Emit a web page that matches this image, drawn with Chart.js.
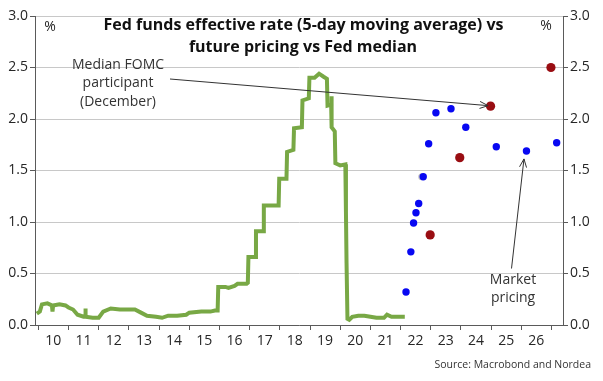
<!DOCTYPE html>
<html>
<head>
<meta charset="utf-8">
<title>Fed funds vs pricing vs Fed median</title>
<script src="https://cdn.jsdelivr.net/npm/chart.js@4.4.1/dist/chart.umd.min.js"></script>
<style>
  html, body { margin: 0; padding: 0; background: #fff; }
</style>
</head>
<body>
<canvas id="chart" width="603" height="381"></canvas>
<script>
// Fed funds effective rate, 5-day moving average (x = decimal year)
const fedYears = [
  2009.95, 2010.05, 2010.12, 2010.3, 2010.45, 2010.47, 2010.49, 2010.7, 2010.9,
  2011.0, 2011.15, 2011.3, 2011.5, 2011.55, 2011.56, 2011.57, 2011.8,
  2012.0, 2012.15, 2012.4, 2012.7, 2013.0, 2013.2, 2013.4, 2013.6, 2013.9,
  2014.1, 2014.3, 2014.6, 2014.9, 2015.0, 2015.4, 2015.7, 2015.85, 2015.94,
  2015.96, 2016.2, 2016.3, 2016.5, 2016.6, 2016.9, 2016.94,
  2016.96, 2017.19, 2017.21, 2017.45, 2017.47, 2017.96, 2017.98,
  2018.22, 2018.24, 2018.45, 2018.47, 2018.73, 2018.75, 2018.96, 2018.98,
  2019.15, 2019.3, 2019.45, 2019.56, 2019.58, 2019.7, 2019.71, 2019.72, 2019.82, 2019.84,
  2020.0, 2020.17, 2020.19, 2020.21, 2020.24, 2020.3, 2020.4, 2020.6, 2020.8,
  2021.0, 2021.2, 2021.45, 2021.55, 2021.7, 2022.0, 2022.14
];
const fedRate = [
  0.11, 0.13, 0.20, 0.21, 0.19, 0.13, 0.19, 0.20, 0.19,
  0.17, 0.15, 0.10, 0.08, 0.08, 0.16, 0.08, 0.07,
  0.07, 0.13, 0.16, 0.15, 0.15, 0.15, 0.12, 0.09, 0.08,
  0.07, 0.09, 0.09, 0.10, 0.12, 0.13, 0.13, 0.14, 0.14,
  0.37, 0.37, 0.36, 0.38, 0.40, 0.40, 0.41,
  0.66, 0.66, 0.91, 0.91, 1.16, 1.16, 1.42,
  1.42, 1.68, 1.70, 1.91, 1.92, 2.18, 2.20, 2.40,
  2.40, 2.44, 2.41, 2.39, 2.13, 2.14, 2.22, 1.92, 1.88, 1.57,
  1.55, 1.56, 1.10, 0.60, 0.06, 0.05, 0.08, 0.09, 0.09,
  0.08, 0.07, 0.07, 0.10, 0.08, 0.08, 0.08
];

// Market (futures) pricing
const marketYears = [2022.18, 2022.34, 2022.43, 2022.51, 2022.6, 2022.75, 2022.93,
  2023.17, 2023.67, 2024.16, 2025.17, 2026.17, 2027.17];
const marketRate = [0.32, 0.71, 0.99, 1.09, 1.18, 1.44, 1.76,
  2.06, 2.10, 1.92, 1.73, 1.69, 1.77];
// faint grey duplicate just behind one of the market dots
const ghostYears = [2022.7];
const ghostRate = [1.44];

// Median FOMC participant (December), last one is the longer run
const fomcYears = [2022.98, 2023.96, 2024.98, 2026.98];
const fomcRate = [0.875, 1.625, 2.125, 2.5];

const xTickYears = [2010, 2011, 2012, 2013, 2014, 2015, 2016, 2017, 2018,
  2019, 2020, 2021, 2022, 2023, 2024, 2025, 2026, 2027];
const xTickLabels = ['10', '11', '12', '13', '14', '15', '16', '17', '18',
  '19', '20', '21', '22', '23', '24', '25', '26', ''];
const yTicks = [0, 0.5, 1, 1.5, 2, 2.5, 3];

const AXIS = '#5a5a5a';
const GRID = '#c8c8c8';
const TEXT = '#262626';
const FONT = '"Open Sans", sans-serif';

const toPoints = (xs, ys) => xs.map((x, i) => ({ x: x, y: ys[i] }));

function arrow(ctx, x1, y1, x2, y2) {
  const a = Math.atan2(y2 - y1, x2 - x1);
  const len = 9, spread = 0.4;
  ctx.beginPath();
  ctx.moveTo(x1, y1);
  ctx.lineTo(x2, y2);
  ctx.moveTo(x2 - len * Math.cos(a - spread), y2 - len * Math.sin(a - spread));
  ctx.lineTo(x2, y2);
  ctx.lineTo(x2 - len * Math.cos(a + spread), y2 - len * Math.sin(a + spread));
  ctx.stroke();
}

// fill text squeezed to a given width if the font is wider
function fitText(ctx, str, cx, cy, maxW) {
  const w = ctx.measureText(str).width;
  const k = w > maxW ? maxW / w : 1;
  ctx.save();
  ctx.translate(cx, cy);
  ctx.scale(k, 1);
  ctx.fillText(str, 0, 0);
  ctx.restore();
}

const whiteBg = {
  id: 'whiteBg',
  beforeDraw(chart) {
    const ctx = chart.ctx;
    ctx.save();
    ctx.fillStyle = '#fff';
    ctx.fillRect(0, 0, chart.width, chart.height);
    ctx.restore();
  }
};

const notes = {
  id: 'notes',
  afterDraw(chart) {
    const { ctx, scales } = chart;
    const sx = scales.x, sy = scales.y;
    ctx.save();

    // title
    ctx.fillStyle = '#111';
    ctx.textAlign = 'center';
    ctx.textBaseline = 'alphabetic';
    ctx.font = 'bold 16px ' + FONT;
    fitText(ctx, 'Fed funds effective rate (5-day moving average) vs', 303.5, 30, 406);
    fitText(ctx, 'future pricing vs Fed median', 303, 52, 231);

    // unit labels
    ctx.font = '14px ' + FONT;
    ctx.fillStyle = TEXT;
    ctx.textBaseline = 'middle';
    ctx.fillText('%', 50, 27);
    ctx.fillText('%', 546, 26);

    // annotations
    ctx.fillStyle = '#333';
    ctx.fillText('Median FOMC', 118, 65);
    ctx.fillText('participant', 118, 83.5);
    ctx.fillText('(December)', 118, 102);
    ctx.fillText('Market', 513, 280);
    ctx.fillText('pricing', 513, 298.5);

    ctx.strokeStyle = '#333';
    ctx.lineWidth = 1;
    const fx = sx.getPixelForValue(fomcYears[2]);
    const fy = sy.getPixelForValue(fomcRate[2]);
    arrow(ctx, 170, 79, fx - 2.5, fy - 0.5);
    const mx = sx.getPixelForValue(marketYears[11]);
    const my = sy.getPixelForValue(marketRate[11]);
    arrow(ctx, 511.5, 268.5, mx - 2.5, my + 8);

    // source
    ctx.font = '10.5px ' + FONT;
    ctx.fillStyle = '#333';
    ctx.textAlign = 'right';
    ctx.fillText('Source: Macrobond and Nordea', 591, 365);
    ctx.restore();
  }
};

const tickFont = { family: FONT, size: 14 };

new Chart(document.getElementById('chart'), {
  type: 'line',
  data: {
    datasets: [
      {
        label: 'Fed funds effective rate',
        data: toPoints(fedYears, fedRate),
        borderColor: '#78a845',
        borderWidth: 4,
        pointRadius: 0,
        tension: 0,
        order: 4
      },
      {
        type: 'scatter',
        label: 'ghost',
        data: toPoints(ghostYears, ghostRate),
        backgroundColor: '#c4c4c4',
        borderWidth: 0,
        pointRadius: 3.5,
        order: 3
      },
      {
        type: 'scatter',
        label: 'Market pricing',
        data: toPoints(marketYears, marketRate),
        backgroundColor: '#0808f2',
        borderWidth: 0,
        pointRadius: 3.7,
        order: 1
      },
      {
        type: 'scatter',
        label: 'Median FOMC participant',
        data: toPoints(fomcYears, fomcRate),
        backgroundColor: '#990d12',
        borderWidth: 0,
        pointRadius: 4.6,
        order: 2
      }
    ]
  },
  options: {
    responsive: false,
    animation: false,
    layout: { padding: { top: 16, left: 0, right: 0, bottom: 0 } },
    plugins: {
      legend: { display: false },
      tooltip: { enabled: false }
    },
    scales: {
      x: {
        type: 'linear',
        min: 2009.89,
        max: 2027.38,
        afterBuildTicks: s => { s.ticks = xTickYears.map(v => ({ value: v })); },
        afterFit: s => { s.height = 56; },
        ticks: {
          callback: (v, i) => xTickLabels[i],
          autoSkip: false,
          maxRotation: 0,
          labelOffset: 15,
          padding: 3,
          color: TEXT,
          font: tickFont
        },
        grid: { drawOnChartArea: false, tickLength: 5, color: AXIS },
        border: { color: AXIS, width: 1 }
      },
      y: {
        position: 'left',
        min: 0,
        max: 3,
        afterBuildTicks: s => { s.ticks = yTicks.map(v => ({ value: v })); },
        afterFit: s => { s.width = 35; },
        ticks: {
          callback: v => v.toFixed(1),
          padding: 2,
          color: TEXT,
          font: tickFont
        },
        grid: { color: GRID, tickColor: AXIS, tickLength: 5 },
        border: { color: AXIS, width: 1 }
      },
      y2: {
        position: 'right',
        min: 0,
        max: 3,
        afterBuildTicks: s => { s.ticks = yTicks.map(v => ({ value: v })); },
        afterFit: s => { s.width = 40; },
        ticks: {
          callback: v => v.toFixed(1),
          padding: 2,
          color: TEXT,
          font: tickFont
        },
        grid: { drawOnChartArea: false, color: AXIS, tickLength: 5 },
        border: { color: AXIS, width: 1 }
      }
    }
  },
  plugins: [whiteBg, notes]
});
</script>
</body>
</html>
